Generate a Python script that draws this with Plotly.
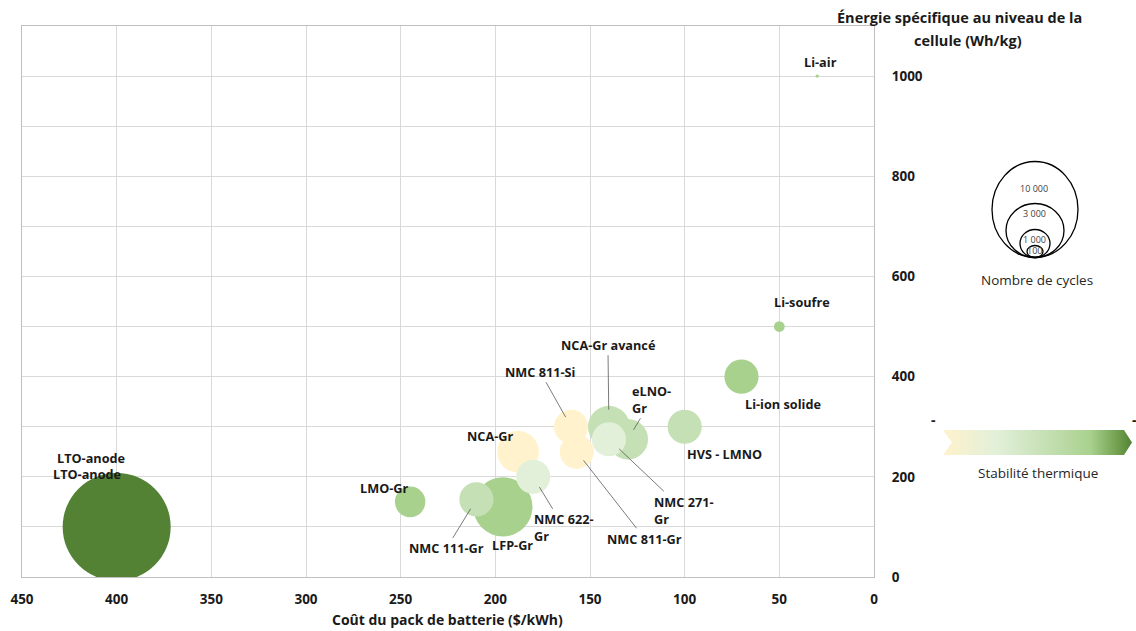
import plotly.graph_objects as go

# Figure canvas and plot frame (pixels)
W, H = 1136, 631
FX0, FX1, FY0, FY1 = 22, 874, 26, 577

FONT = "'Open Sans', Lato, sans-serif"

# ---- Data -------------------------------------------------------------
technologies = [
    "LTO-anode", "LMO-Gr", "LFP-Gr", "NMC 111-Gr", "NCA-Gr", "NMC 622-Gr",
    "NMC 811-Si", "NMC 811-Gr", "eLNO-Gr", "NCA-Gr avancé", "NMC 271-Gr",
    "HVS - LMNO", "Li-ion solide", "Li-soufre", "Li-air",
]
pack_cost = [400, 245, 196, 210, 188, 180, 160, 157, 130, 140, 140, 100, 70, 50, 30]      # $/kWh
cell_energy = [100, 150, 140, 155, 250, 200, 300, 250, 275, 300, 275, 300, 400, 500, 1000]  # Wh/kg
cycle_count = [10000, 800, 3000, 1000, 1500, 1000, 1000, 1000, 1400, 1500, 1000, 1000, 1000, 100, 10]
thermal_stability = [4, 3, 3, 2, 0, 1, 0, 0, 2, 2, 1, 2, 3, 3, 3]  # 0 = low ... 4 = high

legend_cycles = [10000, 3000, 1000, 100]
legend_cycle_labels = ["10 000", "3 000", "1 000", "100"]

x_ticks = [450, 400, 350, 300, 250, 200, 150, 100, 50, 0]
y_ticks = [0, 200, 400, 600, 800, 1000]

# ---- Styling ----------------------------------------------------------
stability_palette = ["#FFF2CC", "#E2F0D9", "#C5E0B4", "#A9D18E", "#548235"]
GRID = "#D9D9D9"
MAX_DIAM = 108  # pixel diameter of the largest bubble

# label placement: (dx, dy) pixel offset of the label centre from the bubble,
# leader flag, standoff, alignment
label_layout = {
    "LTO-anode":     (-26, -69, False, 0, "center"),
    "LMO-Gr":        (-26, -14, False, 0, "center"),
    "LFP-Gr":        (10, 38, False, 0, "center"),
    "NMC 111-Gr":    (-30, 49, True, 11, "center"),
    "NCA-Gr":        (-28, -16, False, 0, "center"),
    "NMC 622-Gr":    (31, 51, True, 12, "left"),
    "NMC 811-Si":    (-31, -55, True, 11, "center"),
    "NMC 811-Gr":    (68, 87, True, 11, "center"),
    "eLNO-Gr":       (24, -40, True, 11, "left"),
    "NCA-Gr avancé": (-1, -82, True, 17, "center"),
    "NMC 271-Gr":    (75, 71, True, 14, "left"),
    "HVS - LMNO":    (40, 27, False, 0, "center"),
    "Li-ion solide": (42, 27, False, 0, "center"),
    "Li-soufre":     (23, -25, False, 0, "center"),
    "Li-air":        (3, -14, False, 0, "center"),
}
two_line = {"NMC 622-Gr": "NMC 622-<br>Gr", "eLNO-Gr": "eLNO-<br>Gr", "NMC 271-Gr": "NMC 271-<br>Gr"}

fig = go.Figure()

# bubbles (drawn in list order so later ones sit on top)
fig.add_trace(go.Scatter(
    x=pack_cost, y=cell_energy, mode="markers",
    text=technologies,
    marker=dict(
        size=cycle_count, sizemode="area",
        sizeref=2.0 * max(cycle_count) / MAX_DIAM ** 2,
        color=[stability_palette[s] for s in thermal_stability],
        opacity=1, line=dict(width=0),
    ),
    hovertemplate="%{text}<br>%{x} $/kWh<br>%{y} Wh/kg<extra></extra>",
    showlegend=False, xaxis="x", yaxis="y",
))

# thermal-stability arrow (pixel overlay axes)
cx = [943, 1124, 1132, 1124, 943, 952, 943]
cy = [430, 430, 442.5, 455, 455, 442.5, 430]
fig.add_trace(go.Scatter(
    x=cx, y=cy, mode="lines", fill="toself",
    fillgradient=dict(type="horizontal", colorscale=[
        [0.0, "#FFF2CC"], [0.28, "#E2F0D9"], [0.55, "#C5E0B4"],
        [0.78, "#A9D18E"], [0.93, "#6E9E4C"], [1.0, "#548235"]]),
    line=dict(width=0), hoverinfo="skip", showlegend=False,
    xaxis="x2", yaxis="y2",
))

annotations = []
lbl_font = dict(family=FONT, size=12.7, color="#1a1a1a", weight="bold")
for tech, x, y in zip(technologies, pack_cost, cell_energy):
    dx, dy, leader, standoff, align = label_layout[tech]
    text = two_line.get(tech, tech)
    if leader:
        annotations.append(dict(
            x=x, y=y, xref="x", yref="y", text=text, align=align,
            showarrow=True, arrowhead=0, arrowwidth=0.8, arrowcolor="#595959",
            ax=dx, ay=dy, standoff=standoff, font=lbl_font,
        ))
    else:
        annotations.append(dict(
            x=x, y=y, xref="x", yref="y", text=text, align=align,
            showarrow=False, xshift=dx, yshift=-dy, font=lbl_font,
        ))
# duplicated data label on the LTO bubble
annotations.append(dict(x=pack_cost[0], y=cell_energy[0], xref="x", yref="y",
                        text="LTO-anode", showarrow=False, xshift=-30, yshift=53,
                        font=lbl_font))

def px_text(x, y, text, size=13, bold=False, color="#1a1a1a", xanchor="center"):
    f = dict(family=FONT, size=size, color=color)
    if bold:
        f["weight"] = "bold"
    annotations.append(dict(x=x, y=y, xref="x2", yref="y2", text=text,
                            showarrow=False, font=f, xanchor=xanchor, yanchor="middle"))

# axis titles
px_text(447, 619.5, "Coût du pack de batterie ($/kWh)", size=14, bold=True)
px_text(959, 17, "Énergie spécifique au niveau de la", size=14.5, bold=True)
px_text(968, 40, "cellule (Wh/kg)", size=14.5, bold=True)

# bubble-size key
shapes = []
key_bottom, key_cx = 257.5, 1035
key_r = [(43, 48), (29, 27), (15, 14), (8, 6)]
for (rx, ry) in key_r:
    shapes.append(dict(type="circle", xref="x2", yref="y2",
                       x0=key_cx - rx, x1=key_cx + rx,
                       y0=key_bottom - 2 * ry, y1=key_bottom,
                       line=dict(color="#000000", width=1.3)))
for lab, ly in zip(legend_cycle_labels, [188, 213, 239, 250.5]):
    px_text(key_cx - 1, ly, lab, size=9, color="#404040")
px_text(1037, 280, "Nombre de cycles", size=13.5, color="#262626")

# stability key text
px_text(933, 419, "-", size=14, bold=True)
px_text(1134, 419, "-", size=14, bold=True)
px_text(1038, 473, "Stabilité thermique", size=13.5, color="#262626")

fig.update_layout(
    width=W, height=H,
    margin=dict(l=0, r=0, t=0, b=0, autoexpand=False),
    paper_bgcolor="white", plot_bgcolor="rgba(0,0,0,0)",
    font=dict(family=FONT, color="#1a1a1a"),
    xaxis=dict(
        domain=[FX0 / W, FX1 / W], range=[450, 0], anchor="y",
        tickvals=x_ticks, showgrid=True, gridcolor=GRID, gridwidth=1,
        zeroline=False, showline=True, linecolor="#BFBFBF", mirror=True,
        ticks="", ticklabelstandoff=10, automargin=False,
        tickfont=dict(family=FONT, size=13.5, color="#1a1a1a", weight="bold"),
    ),
    yaxis=dict(
        domain=[(H - FY1) / H, (H - FY0) / H], range=[0, 1100], anchor="x",
        side="right", tickvals=y_ticks, showgrid=True, gridcolor=GRID,
        minor=dict(dtick=100, tick0=0, showgrid=True, gridcolor=GRID),
        zeroline=False, showline=True, linecolor="#BFBFBF", mirror=True,
        ticks="", ticklabelstandoff=14, automargin=False,
        tickfont=dict(family=FONT, size=13.5, color="#1a1a1a", weight="bold"),
    ),
    xaxis2=dict(domain=[0, 1], range=[0, W], visible=False, anchor="y2", fixedrange=True),
    yaxis2=dict(domain=[0, 1], range=[H, 0], visible=False, anchor="x2", fixedrange=True),
    annotations=annotations,
    shapes=shapes,
)

fig.write_html("out.html")
